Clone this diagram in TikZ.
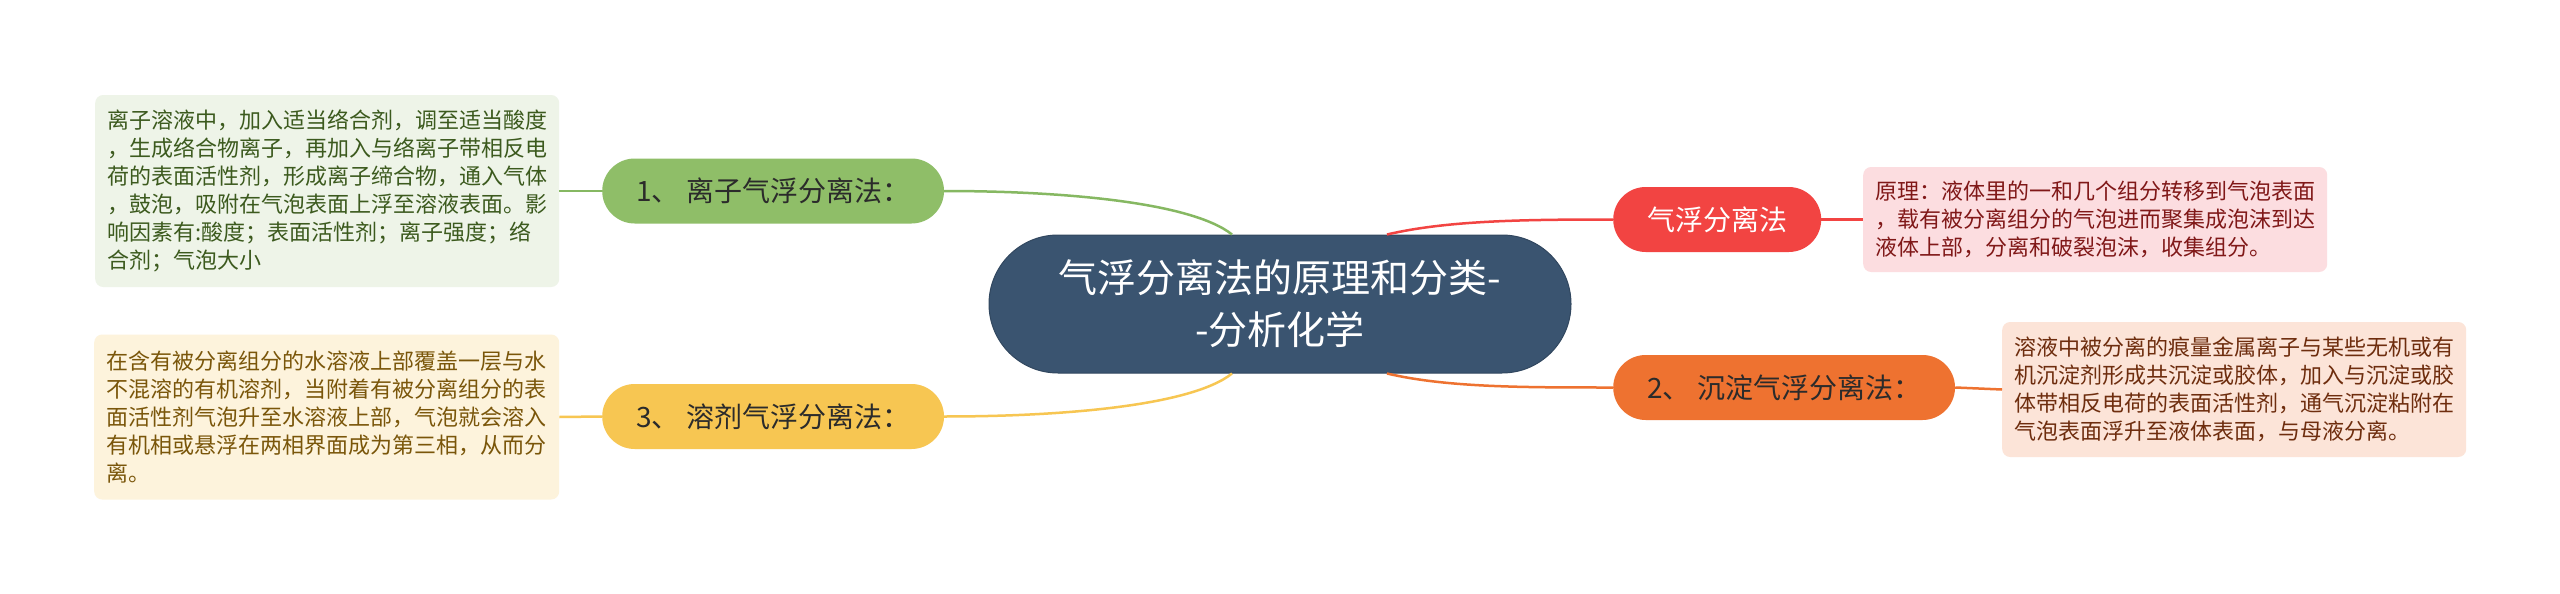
\documentclass[tikz,border=0pt]{standalone}
\usepackage{fontspec}
\setmainfont{Noto Sans CJK SC}
\definecolor{cmain}{HTML}{3A5470}
\definecolor{cgreen}{HTML}{8FBE68}
\definecolor{cgreenline}{HTML}{86B862}
\definecolor{cgreenleaf}{HTML}{EEF4E8}
\definecolor{cgreentext}{HTML}{3C5A1E}
\definecolor{cyellow}{HTML}{F7C652}
\definecolor{cyellowleaf}{HTML}{FDF3DC}
\definecolor{cyellowtext}{HTML}{7A560A}
\definecolor{cred}{HTML}{F24442}
\definecolor{credleaf}{HTML}{FCDDE0}
\definecolor{credtext}{HTML}{801818}
\definecolor{corange}{HTML}{EE7230}
\definecolor{corangeleaf}{HTML}{FCE4D8}
\definecolor{corangetext}{HTML}{6E2D0E}
\definecolor{cdark}{HTML}{2B2B2B}
\begin{document}
\begin{tikzpicture}[x=1pt,y=-1pt,
  topic/.style={rounded corners=32.5pt, minimum height=65pt, inner xsep=34pt, inner ysep=0pt,
    font=\fontsize{28}{32}\selectfont, anchor=west},
  leaf/.style={rounded corners=8pt, inner xsep=12pt, inner ysep=0pt, anchor=west, align=left,
    font=\fontsize{22}{28}\selectfont},
  conn/.style={line width=2.5pt}]
\fill[white] (0,0) rectangle (2560,594);
\useasboundingbox (0,0) rectangle (2560,594);

% central
\node[fill=cmain, draw=cmain!85!black, line width=1pt, rounded corners=69pt,
  minimum width=582pt, minimum height=138pt, align=center, text=white,
  font=\fontsize{39}{52}\selectfont] (c) at (1280,304) {气浮分离法的原理和分类-\\-分析化学};

% main topics
\node[topic, fill=cgreen, text=cdark] (t1) at (602,191) {1、 离子气浮分离法：};
\node[topic, fill=cyellow, text=cdark] (t3) at (602,416.5) {3、 溶剂气浮分离法：};
\node[topic, fill=cred, text=white] (t0) at (1613,219.5) {气浮分离法};
\node[topic, fill=corange, text=cdark] (t2) at (1613,387.5) {2、 沉淀气浮分离法：};

% leaves
\node[leaf, fill=cgreenleaf, text=cgreentext, minimum width=463pt, minimum height=192pt] (l1) at (95,191)
 {离子溶液中，加入适当络合剂，调至适当酸度\\，生成络合物离子，再加入与络离子带相反电\\荷的表面活性剂，形成离子缔合物，通入气体\\，鼓泡，吸附在气泡表面上浮至溶液表面。影\\响因素有:酸度；表面活性剂；离子强度；络\\合剂；气泡大小};
\node[leaf, fill=cyellowleaf, text=cyellowtext, minimum width=465pt, minimum height=165pt] (l3) at (94,417)
 {在含有被分离组分的水溶液上部覆盖一层与水\\不混溶的有机溶剂，当附着有被分离组分的表\\面活性剂气泡升至水溶液上部，气泡就会溶入\\有机相或悬浮在两相界面成为第三相，从而分\\离。};
\node[leaf, fill=credleaf, text=credtext, minimum width=462pt, minimum height=105pt] (l0) at (1863,219.5)
 {原理：液体里的一和几个组分转移到气泡表面\\，载有被分离组分的气泡进而聚集成泡沫到达\\液体上部，分离和破裂泡沫，收集组分。};
\node[leaf, fill=corangeleaf, text=corangetext, minimum width=461pt, minimum height=135pt] (l2) at (2002,389.5)
 {溶液中被分离的痕量金属离子与某些无机或有\\机沉淀剂形成共沉淀或胶体，加入与沉淀或胶\\体带相反电荷的表面活性剂，通气沉淀粘附在\\气泡表面浮升至液体表面，与母液分离。};

% connectors
\draw[conn, cgreenline] ([xshift=-48pt]c.north) .. controls +(-40,-32) and +(120,0) .. (t1.east);
\draw[conn, cyellow] ([xshift=-48pt]c.south) .. controls +(-40,32) and +(120,0) .. (t3.east);
\draw[conn, cred] ([xshift=107pt]c.north) .. controls +(60,-14) and +(-90,0) .. (t0.west);
\draw[conn, corange] ([xshift=107pt]c.south) .. controls +(60,14) and +(-90,0) .. (t2.west);

\draw[conn, cgreenline] (t1.west) -- (l1.east);
\draw[conn, cyellow] (t3.west) -- (l3.east);
\draw[conn, cred] (t0.east) -- (l0.west);
\draw[conn, corange] (t2.east) -- (l2.west);
\end{tikzpicture}
\end{document}
